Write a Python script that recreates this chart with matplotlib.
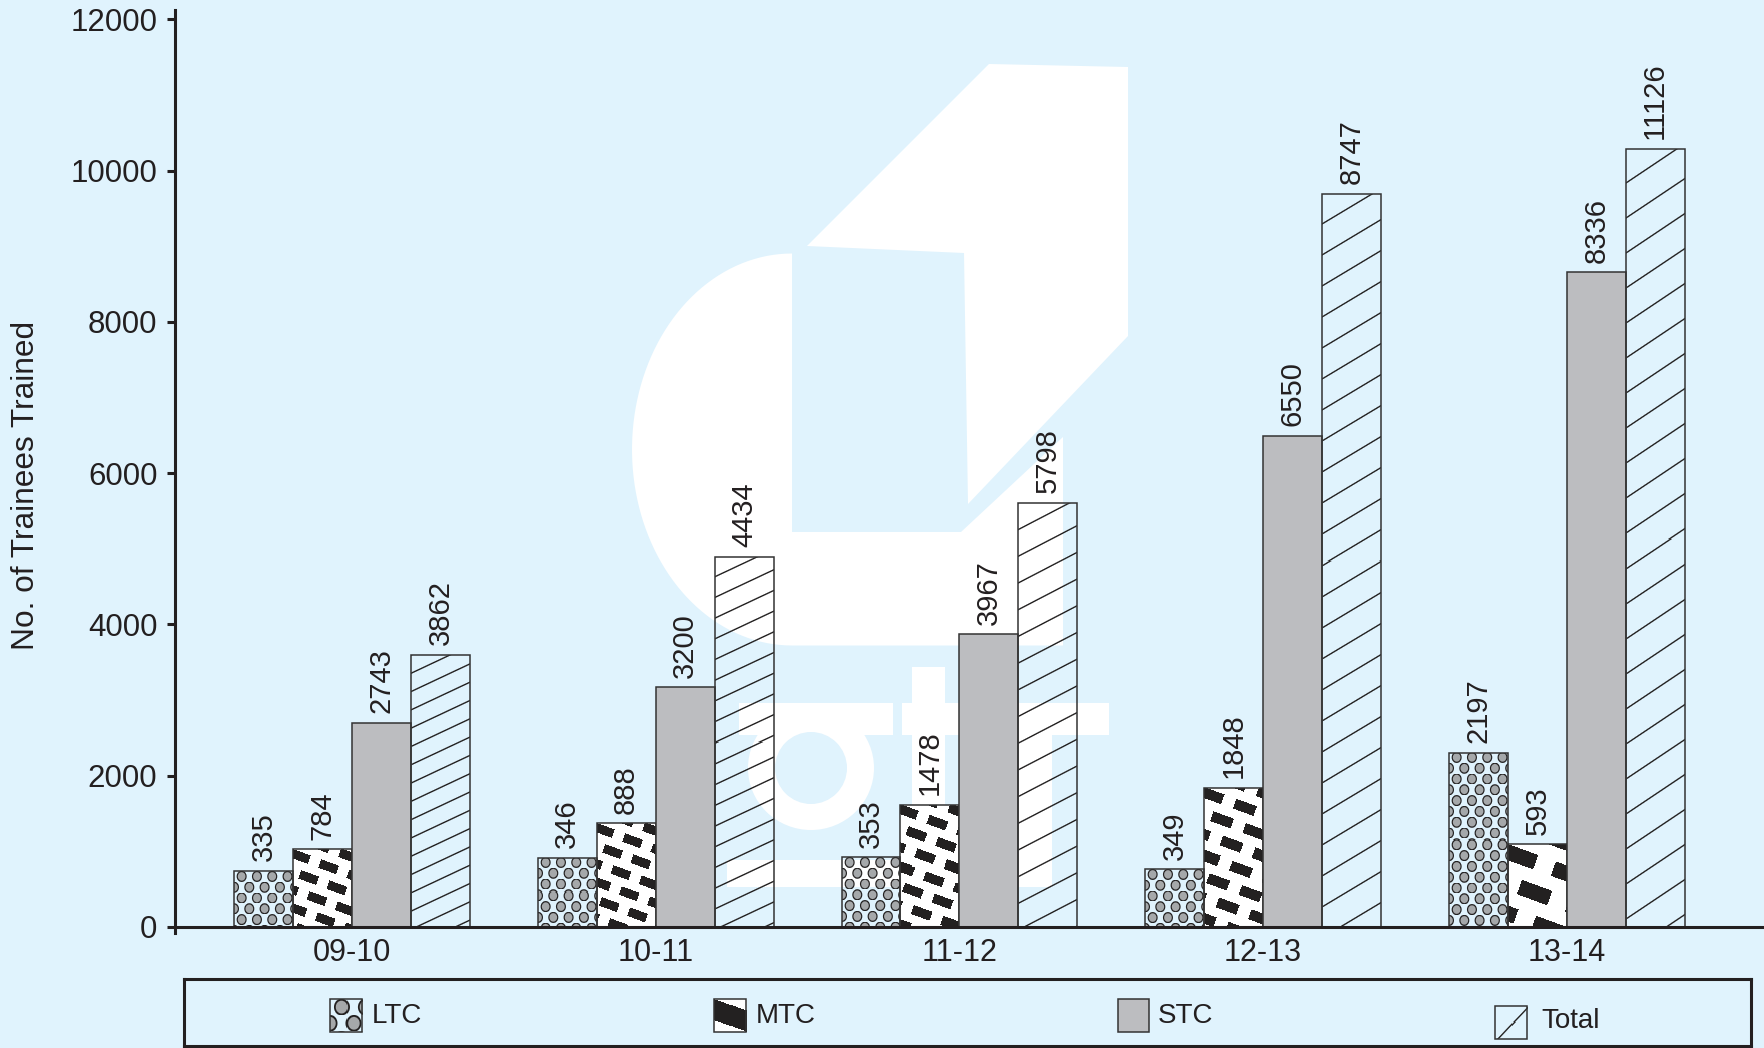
import numpy as np
import matplotlib
matplotlib.use('Agg')
import matplotlib.pyplot as plt
from matplotlib import font_manager
from matplotlib.patches import Polygon, Rectangle, Ellipse
from matplotlib.transforms import Affine2D

# Data (bar heights as drawn; numbers printed above bars differ)
years = ['09-10', '10-11', '11-12', '12-13', '13-14']
ltc_bar = [740, 915, 921, 763, 2304]
mtc_bar = [1027, 1371, 1613, 1838, 1093]
stc_bar = [2701, 3169, 3870, 6496, 8654]
tot_bar = [3593, 4894, 5603, 9695, 10289]
ltc_lab = [335, 346, 353, 349, 2197]
mtc_lab = [784, 888, 1478, 1848, 593]
stc_lab = [2743, 3200, 3967, 6550, 8336]
tot_lab = [3862, 4434, 5798, 8747, 11126]
series = ['LTC', 'MTC', 'STC', 'Total']
yticks = [0, 2000, 4000, 6000, 8000, 10000, 12000]

# pattern scaling per group (the source stretched its fills)
mtc_scale = [1.0, 1.0, 1.05, 1.15, 1.7]
tot_space = [18.3, 20.7, 26.7, 31.0, 35.0]
tot_slope = [0.47, 0.47, 0.52, 0.60, 0.67]

BG = '#e0f3fd'
INK = '#231f20'
EDGE = '#333333'
STC_GRAY = '#bcbdc0'
DARK = np.array([0.14, 0.13, 0.13])
DOT = np.array([0.65, 0.66, 0.67])

names = {f.name for f in font_manager.fontManager.ttflist}
NARROW = 'Liberation Sans Narrow' if 'Liberation Sans Narrow' in names else 'Liberation Sans'
plt.rcParams['font.family'] = ['Liberation Sans', 'DejaVu Sans']


def dots(w, h, sc=1.0):
    yy, xx = np.mgrid[0:h, 0:w] + 0.5
    px, py = 15.3 * sc, 10.8 * sc
    rx, ry = 5.0 * sc, 5.6 * sc
    row = np.floor(yy / py)
    sh = (row % 2) * px / 2
    cx = (np.floor((xx - sh) / px) + 0.5) * px + sh
    cy = (row + 0.5) * py
    r = np.hypot((xx - cx) / rx, (yy - cy) / ry)
    a = np.clip((1 - r) * rx + 0.5, 0, 1)
    k = np.clip((0.76 - r) * rx + 0.5, 0, 1)
    rgb = DARK * (1 - k)[..., None] + DOT * k[..., None]
    return np.dstack([rgb, a])


def bricks(w, h, sc=1.0):
    yy, xx = np.mgrid[0:h, 0:w] + 0.5
    th = np.deg2rad(20)
    u = xx * np.cos(th) + yy * np.sin(th)
    v = -xx * np.sin(th) + yy * np.cos(th)
    pu, pv = 30 * sc, 17 * sc
    row = np.floor(v / pv)
    uu = (u + (row % 2) * pu * 0.5) % pu
    vv = v % pv
    dash = ((uu < 19 * sc) & (vv < 9 * sc)).astype(float)
    rgb = 1 - dash[..., None] * (1 - DARK)
    return np.dstack([rgb, np.ones((h, w))])


def lines(w, h, sp, slope, lw=1.4):
    yy, xx = np.mgrid[0:h, 0:w] + 0.5
    t = yy + slope * xx
    m = t % sp
    d = np.minimum(m, sp - m) / np.hypot(1, slope)
    a = np.clip(lw / 2 + 0.5 - d, 0, 1)
    rgb = np.ones((h, w, 3)) * DARK
    return np.dstack([rgb, a])


def fill_patch(axx, patch, tex, flip=False):
    bb = patch.get_window_extent()
    w, h = max(int(round(bb.width)), 1), max(int(round(bb.height)), 1)
    x0, y0 = patch.get_x(), patch.get_y()
    x1, y1 = x0 + patch.get_width(), y0 + patch.get_height()
    ext = (x0, x1, y1, y0) if flip else (x0, x1, y0, y1)
    im = axx.imshow(tex(w, h), extent=ext, origin='upper', aspect='auto',
                    interpolation='nearest', zorder=1.8)
    im.set_clip_path(patch)


W, H = 1765, 1048
fig = plt.figure(figsize=(W / 100, H / 100), dpi=100)
fig.patch.set_facecolor(BG)

# axes geometry in pixels
y0_px, y12_px = 927.0, 19.3
ppu = (y0_px - y12_px) / 12000
ylo, yhi = -80, 12000 + (y12_px - 10) / ppu
bot_px = y0_px - ylo * ppu
top_px = y0_px - yhi * ppu
left_px, c0_px, step_px = 175.5, 352.0, 303.7
xlo, xhi = (left_px - c0_px) / step_px, (W - c0_px) / step_px

ax = fig.add_axes([left_px / W, 1 - bot_px / H, (W - left_px) / W, (bot_px - top_px) / H])
ax.set_facecolor('none')
ax.set_xlim(xlo, xhi)
ax.set_ylim(ylo, yhi)
ax.set_autoscale_on(False)

# watermark logo (figure pixel coordinates)
px_tr = Affine2D().scale(1 / W, -1 / H).translate(0, 1) + fig.transFigure
wm = dict(facecolor='white', edgecolor='none', zorder=0.5, clip_on=False, transform=px_tr)
ax.add_patch(Polygon([(989, 64), (1128, 67), (1128, 336), (968, 504), (964, 253), (807, 246)], **wm))
t = np.linspace(np.pi / 2, 3 * np.pi / 2, 80)
arc = np.column_stack([792 + 160 * np.cos(t), 449.5 - 196 * np.sin(t)])
blob = np.vstack([arc, [(1063, 645.5), (1063, 437), (961, 532), (792, 532)]])
ax.add_patch(Polygon(blob, **wm))
for (a, b, c, d) in [(739, 703, 893, 735), (902, 703, 1109, 735), (912, 667, 945, 887),
                     (1016, 735, 1052, 887), (727, 860, 1052, 887)]:
    ax.add_patch(Rectangle((a, b), c - a, d - b, **wm))
ax.add_patch(Ellipse((811, 768), 126, 124, **wm))
ax.add_patch(Ellipse((811, 768), 72, 72, facecolor=BG, edgecolor='none', zorder=0.6,
                     clip_on=False, transform=px_tr))

x = np.arange(len(years))
bw = 0.194
heights = [ltc_bar, mtc_bar, stc_bar, tot_bar]
labels = [ltc_lab, mtc_lab, stc_lab, tot_lab]
for k in range(4):
    fc = STC_GRAY if k == 2 else 'none'
    bars = ax.bar(x + (k - 1.5) * bw, heights[k], bw, facecolor=fc, edgecolor=EDGE,
                  linewidth=1.1, zorder=2)
    for i, b in enumerate(bars):
        if k == 0:
            fill_patch(ax, b, lambda w, h: dots(w, h))
        elif k == 1:
            fill_patch(ax, b, lambda w, h, s=mtc_scale[i]: bricks(w, h, s))
        elif k == 3:
            fill_patch(ax, b, lambda w, h, i=i: lines(w, h, tot_space[i], tot_slope[i]))
        ax.annotate(str(labels[k][i]), (b.get_x() + bw / 2, b.get_height()),
                    xytext=(0, 7), textcoords='offset points', rotation=90,
                    ha='center', va='bottom', fontsize=21, color=INK,
                    family=[NARROW, 'DejaVu Sans'])

for s in ['top', 'right']:
    ax.spines[s].set_visible(False)
for s in ['left', 'bottom']:
    ax.spines[s].set_linewidth(2.2)
    ax.spines[s].set_color(INK)
ax.spines['bottom'].set_position(('data', 0))
ax.spines['bottom'].set_zorder(3)
ax.set_yticks(yticks)
ax.set_xticks(x)
ax.set_xticklabels(years)
ax.tick_params(axis='y', direction='out', length=6, width=2.2, pad=7,
               labelsize=22.5, colors=INK)
ax.tick_params(axis='x', length=0, pad=8, labelsize=22, colors=INK)
fig.text(26.5 / W, 1 - 485 / H, 'No. of Trainees Trained', rotation=90,
         ha='center', va='center', fontsize=22.8, color=INK)

# legend box
lx0, lx1, ly0, ly1 = 184.5, 1751.3, 979.3, 1046.0
lax = fig.add_axes([lx0 / W, 1 - ly1 / H, (lx1 - lx0) / W, (ly1 - ly0) / H])
lax.set_facecolor('none')
lax.set_xlim(lx0, lx1)
lax.set_ylim(ly1, ly0)
lax.set_autoscale_on(False)
lax.set_xticks([])
lax.set_yticks([])
for s in lax.spines.values():
    s.set_linewidth(2.2)
    s.set_color(INK)
sw = [(329.6, 999, 32.4, 32.7, 372, 1016), (713.5, 999, 32.5, 32.7, 756, 1016),
      (1117.5, 999.3, 31.9, 32.4, 1158, 1016), (1494.6, 1005.7, 32.4, 33.3, 1541.6, 1021)]
for k, (sx, sy, swd, sht, tx, ty) in enumerate(sw):
    fc = STC_GRAY if k == 2 else 'none'
    r = Rectangle((sx, sy), swd, sht, facecolor=fc, edgecolor=EDGE, linewidth=1.1, zorder=2)
    lax.add_patch(r)
    if k == 0:
        fill_patch(lax, r, lambda w, h: dots(w, h, 1.5), flip=True)
    elif k == 1:
        fill_patch(lax, r, lambda w, h: bricks(w, h, 2.2), flip=True)
    elif k == 3:
        fill_patch(lax, r, lambda w, h: lines(w, h, 36, 1.05), flip=True)
    lax.text(tx, ty, series[k], ha='left', va='center', fontsize=20, color=INK,
             family=[NARROW, 'DejaVu Sans'])

fig.savefig('out.png', dpi=100, facecolor=BG)
